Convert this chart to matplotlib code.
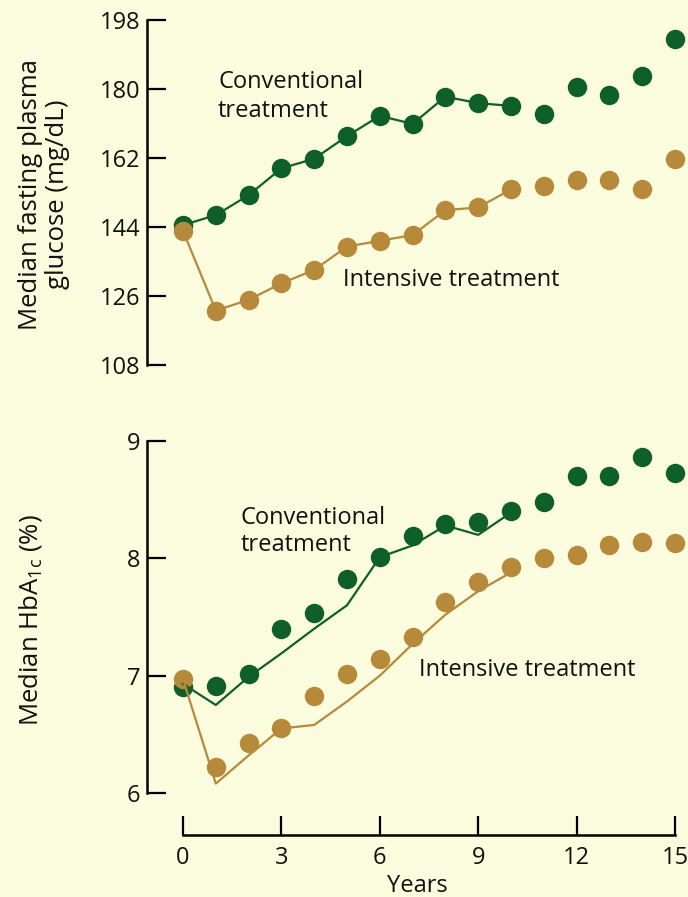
import matplotlib
matplotlib.use("Agg")
import matplotlib.pyplot as plt

# ---------------- data ----------------
years = list(range(16))
line_years = list(range(11))

conv_glucose = [144.5, 147.1, 152.3, 159.3, 161.8, 167.7, 173.0, 170.9, 178.0, 176.3,
                175.6, 173.4, 180.4, 178.4, 183.4, 193.0]
int_glucose = [143.0, 122.2, 125.0, 129.3, 132.8, 138.9, 140.4, 141.9, 148.4, 149.1,
               153.8, 154.7, 156.3, 156.3, 153.8, 161.7]

conv_hba1c = [6.90, 6.91, 7.01, 7.40, 7.53, 7.82, 8.01, 8.19, 8.29, 8.31,
              8.40, 8.48, 8.70, 8.70, 8.86, 8.73]
conv_hba1c_line = [6.93, 6.75, 6.99, 7.19, 7.40, 7.60, 8.01, 8.11, 8.28, 8.20, 8.39]
int_hba1c = [6.97, 6.22, 6.43, 6.55, 6.83, 7.01, 7.14, 7.33, 7.63, 7.80,
             7.93, 8.00, 8.03, 8.11, 8.14, 8.13]
int_hba1c_line = [6.97, 6.08, 6.32, 6.55, 6.58, 6.78, 7.00, 7.27, 7.52, 7.72, 7.88]

glucose_ticks = [108, 126, 144, 162, 180, 198]
hba1c_ticks = [6, 7, 8, 9]
year_ticks = [0, 3, 6, 9, 12, 15]

# ---------------- style ----------------
BG = "#FBFBDD"
GREEN = "#0F5F29"
TAN = "#B7893A"
FONT = ["Open Sans", "DejaVu Sans"]
plt.rcParams["font.family"] = FONT
plt.rcParams["mathtext.fontset"] = "custom"
plt.rcParams["mathtext.rm"] = "Open Sans"
FS = 17
TXT = "#111111"

W, H = 688, 897
fig = plt.figure(figsize=(W / 100, H / 100), dpi=100, facecolor=BG)

px_per_year = 32.8
x0_px = 183
left_px = 147
xlim = ((left_px - x0_px) / px_per_year, (W - x0_px) / px_per_year)


def make_ax(top_px, bot_px):
    ax = fig.add_axes([left_px / W, (H - bot_px) / H, (W - left_px) / W, (bot_px - top_px) / H])
    ax.set_facecolor("none")
    for s in ["top", "right"]:
        ax.spines[s].set_visible(False)
    ax.spines["left"].set_linewidth(1.8)
    ax.spines["bottom"].set_linewidth(1.8)
    ax.set_xlim(*xlim)
    ax.tick_params(axis="both", direction="in", length=13.5, width=1.6,
                   labelsize=FS, color="black", labelcolor=TXT)
    ax.tick_params(axis="y", pad=5)
    ax.tick_params(axis="x", pad=8)
    return ax


MS = 14
LW = 1.6

# ---- top panel ----
ax1 = make_ax(20, 365)
ax1.set_ylim(108, 198)
ax1.set_yticks(glucose_ticks)
ax1.spines["left"].set_bounds(108, 198)
ax1.spines["bottom"].set_visible(False)
ax1.set_xticks([])
ax1.plot(line_years, conv_glucose[:11], color=GREEN, lw=LW, zorder=2)
ax1.plot(years, conv_glucose, "o", color=GREEN, ms=MS, mew=0, zorder=3, clip_on=False)
ax1.plot(line_years, int_glucose[:11], color=TAN, lw=LW, zorder=2)
ax1.plot(years, int_glucose, "o", color=TAN, ms=MS, mew=0, zorder=4, clip_on=False)
ax1.text(1.07, 178.0, "Conventional\ntreatment", fontsize=FS, ha="left", va="center",
         linespacing=1.3, color=TXT)
ax1.text(4.87, 130.2, "Intensive treatment", fontsize=FS, ha="left", va="center",
         color=TXT)

# ---- bottom panel ----
ax2 = make_ax(441, 793)
ax2.set_ylim(6, 9)
ax2.set_yticks(hba1c_ticks)
ax2.spines["left"].set_bounds(6, 9)
ax2.spines["bottom"].set_position(("outward", 30.2))
ax2.spines["bottom"].set_bounds(0, 15)
ax2.set_xticks(year_ticks)
ax2.plot(years, conv_hba1c, "o", color=GREEN, ms=MS, mew=0, zorder=2, clip_on=False)
ax2.plot(line_years, conv_hba1c_line, color=GREEN, lw=LW, zorder=3)
ax2.plot(years, int_hba1c, "o", color=TAN, ms=MS, mew=0, zorder=2, clip_on=False)
ax2.plot(line_years, int_hba1c_line, color=TAN, lw=LW, zorder=3)
ax2.text(1.75, 8.23, "Conventional\ntreatment", fontsize=FS, ha="left", va="center",
         linespacing=1.2, color=TXT)
ax2.text(7.2, 7.05, "Intensive treatment", fontsize=FS, ha="left", va="center",
         color=TXT)
ax2.set_xlabel("Years", fontsize=FS, labelpad=3, color=TXT)

# ---- y labels ----
fig.text(44 / W, 1 - 194 / H, "Median fasting plasma\nglucose (mg/dL)", rotation=90,
         ha="center", va="center", fontsize=FS + 1.5, linespacing=1.1, color=TXT)
fig.text(31 / W, 1 - 620 / H, r"Median HbA$_{\mathrm{1c}}$ (%)", rotation=90,
         ha="center", va="center", fontsize=FS + 1.5, color=TXT)

fig.savefig("out.png", dpi=100, facecolor=BG)
